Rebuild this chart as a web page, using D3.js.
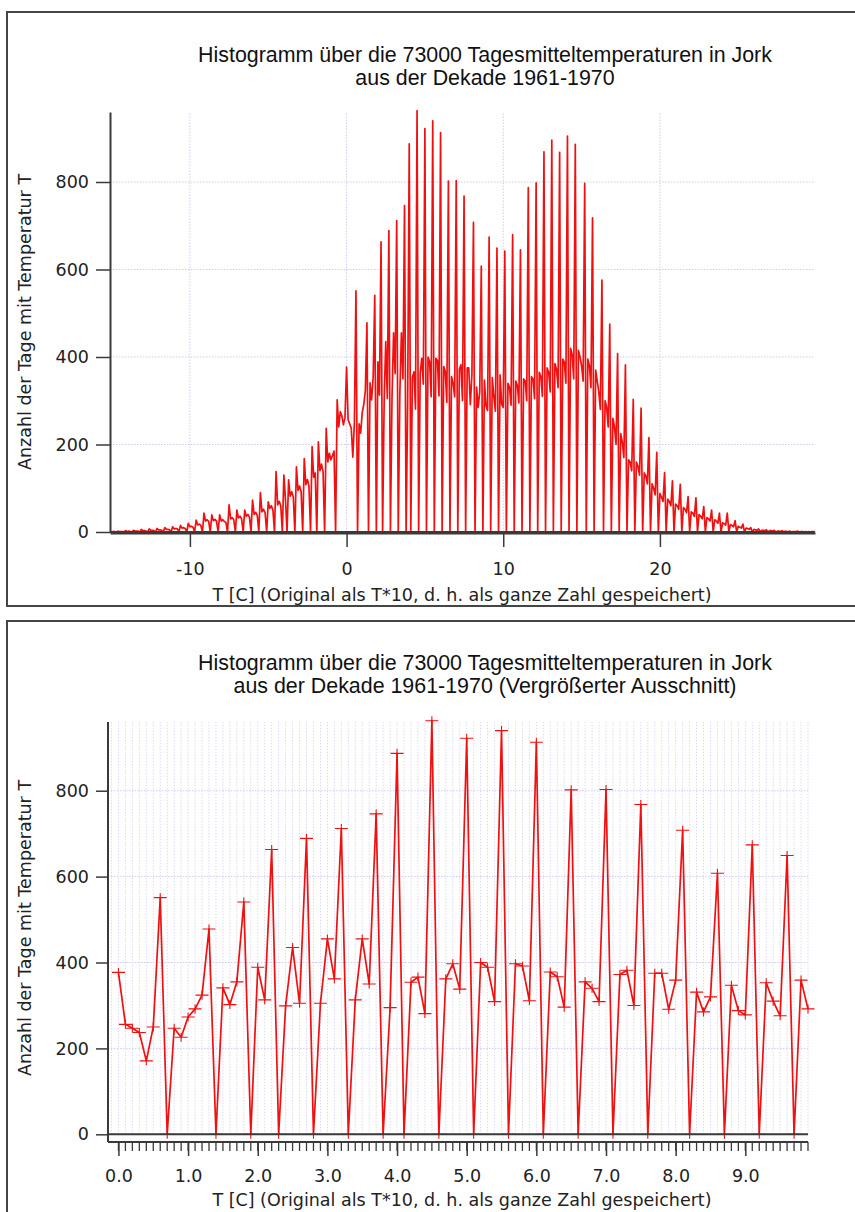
<!DOCTYPE html>
<html>
<head>
<meta charset="utf-8">
<script src="https://cdn.jsdelivr.net/npm/d3@7"></script>
<style>
  body { margin: 0; background: #fff; }
  svg { display: block; }
</style>
</head>
<body>
<div id="chart"></div>
<script>
// histogram of daily mean temperatures, bins of 0.1 degC, counts
const binStart = -15.0;
const binStep = 0.1;

// -15.0 .. -0.1
const countsNeg = [
  1, 1, 1, 0, 2, 1, 1, 1, 0, 3,
  1, 2, 1, 0, 4, 2, 2, 2, 0, 6,
  3, 3, 2, 0, 7, 4, 4, 3, 0, 8,
  5, 5, 4, 0, 10, 6, 6, 5, 0, 12,
  7, 8, 7, 0, 15, 9, 10, 8, 0, 20,
  12, 13, 11, 0, 27, 16, 18, 15, 0, 43,
  25, 28, 24, 0, 39, 26, 29, 25, 0, 39,
  25, 28, 24, 22, 0, 62, 30, 33, 28, 0,
  50, 32, 36, 30, 0, 50, 36, 40, 34, 0,
  73, 40, 45, 38, 0, 90, 46, 52, 44, 0,
  69, 54, 60, 50, 0, 138, 62, 70, 60, 0,
  130, 75, 0, 119, 82, 92, 80, 0, 149, 95,
  105, 92, 0, 168, 108, 120, 105, 0, 195, 125,
  135, 0, 206, 140, 155, 138, 0, 237, 160, 180,
  165, 175, 185, 0, 302, 240, 275, 265, 245, 262
];

// 0.0 .. 9.9 (also the enlarged section)
const counts0to10 = [
  377, 256, 247, 237, 171, 250, 551, 0, 247, 226,
  273, 292, 324, 478, 0, 341, 302, 355, 541, 0,
  389, 313, 663, 0, 299, 435, 305, 689, 0, 305,
  455, 362, 712, 0, 313, 455, 350, 746, 0, 295,
  887, 0, 354, 366, 281, 963, 0, 362, 397, 338,
  922, 0, 400, 389, 309, 940, 0, 397, 392, 311,
  913, 0, 378, 367, 296, 802, 0, 355, 340, 309,
  803, 0, 372, 382, 300, 768, 0, 375, 375, 291,
  359, 708, 0, 331, 285, 320, 608, 0, 347, 288,
  278, 674, 0, 353, 310, 276, 649, 0, 359, 292
];

// 10.0 .. 29.9
const counts10to30 = [
  285, 642, 0, 340, 330, 290, 680, 0, 345, 335,
  295, 645, 0, 350, 345, 300, 787, 0, 355, 350,
  305, 798, 0, 365, 355, 310, 869, 0, 375, 365,
  320, 896, 0, 385, 372, 330, 868, 0, 395, 388,
  340, 905, 0, 420, 405, 350, 886, 0, 415, 400,
  380, 345, 797, 0, 395, 380, 330, 718, 0, 370,
  345, 320, 280, 576, 0, 300, 285, 240, 475, 0,
  260, 240, 200, 408, 0, 225, 205, 170, 382, 0,
  165, 160, 140, 303, 0, 160, 150, 130, 283, 0,
  135, 128, 110, 216, 0, 110, 100, 85, 182, 0,
  88, 80, 70, 136, 0, 75, 70, 60, 117, 0,
  64, 60, 52, 109, 0, 56, 52, 44, 81, 0,
  46, 43, 36, 78, 0, 40, 36, 30, 58, 0,
  33, 30, 25, 50, 0, 28, 25, 20, 43, 0,
  21, 19, 16, 43, 0, 17, 15, 12, 26, 0,
  13, 11, 9, 18, 0, 9, 8, 6, 10, 0,
  6, 5, 4, 7, 0, 4, 4, 3, 5, 0,
  3, 3, 2, 4, 0, 2, 2, 1, 3, 0,
  2, 1, 1, 2, 0, 1, 1, 1, 2, 0,
  1, 1, 0, 1, 0, 1, 0, 1, 1, 0
];

const yTicks = [0, 200, 400, 600, 800];
const xTicksFull = [-10, 0, 10, 20];
const xTicksZoom = [0, 1, 2, 3, 4, 5, 6, 7, 8, 9];

const titleFull = ['Histogramm über die 73000 Tagesmitteltemperaturen in Jork', 'aus der Dekade 1961-1970'];
const titleZoom = ['Histogramm über die 73000 Tagesmitteltemperaturen in Jork', 'aus der Dekade 1961-1970 (Vergrößerter Ausschnitt)'];
const xTitle = 'T [C] (Original als T*10, d. h. als ganze Zahl gespeichert)';
const yTitle = 'Anzahl der Tage mit Temperatur T';

const red = '#f01010';
const gridColor = '#ccccf2';
const axisColor = '#3a3a3a';
const labelFont = '"DejaVu Sans", sans-serif';
const titleFont = '"Liberation Sans", Arial, sans-serif';

const allBins = countsNeg.concat(counts0to10, counts10to30)
  .map((n, i) => ({ t: +(binStart + i * binStep).toFixed(1), n }));
const zoomBins = counts0to10.map((n, i) => ({ t: +(i * binStep).toFixed(1), n }));

const svg = d3.select('#chart').append('svg')
  .attr('width', 855)
  .attr('height', 1212);

// frames
svg.append('rect')
  .attr('x', 7).attr('y', 12).attr('width', 870).attr('height', 594)
  .attr('fill', 'none').attr('stroke', '#454545').attr('stroke-width', 2);
svg.append('rect')
  .attr('x', 7).attr('y', 621).attr('width', 870).attr('height', 620)
  .attr('fill', 'none').attr('stroke', '#454545').attr('stroke-width', 2);

const drawTitle = (lines, y0) => {
  svg.append('g').selectAll('text')
    .data(lines)
    .enter().append('text')
    .attr('x', 485)
    .attr('y', (d, i) => y0 + i * 23)
    .style('font-family', titleFont)
    .style('font-size', '21.4px')
    .style('text-anchor', 'middle')
    .style('fill', '#111')
    .text(d => d);
};

const styleAxis = (g) => {
  g.selectAll('path.domain').attr('stroke', axisColor).attr('stroke-width', 2);
  g.selectAll('.tick line').attr('stroke', axisColor).attr('stroke-width', 1.5);
  g.selectAll('.tick text')
    .style('font-family', labelFont)
    .style('font-size', '17.5px')
    .style('fill', '#222');
};

// ---------- top panel: full range ----------
{
  const x = d3.scaleLinear([-15.1, 29.9], [110, 815]);
  const y = d3.scaleLinear([0, 960], [532, 112]);

  drawTitle(titleFull, 62);

  const grid = svg.append('g')
    .attr('stroke', gridColor).attr('stroke-width', 1).attr('stroke-dasharray', '1.5,1.5');
  grid.selectAll('.hg').data(yTicks.slice(1)).enter().append('line')
    .attr('x1', x.range()[0]).attr('x2', x.range()[1])
    .attr('y1', d => y(d)).attr('y2', d => y(d));
  grid.selectAll('.vg').data(xTicksFull).enter().append('line')
    .attr('x1', d => x(d)).attr('x2', d => x(d))
    .attr('y1', y(0)).attr('y2', y.range()[1]);

  const line = d3.line().x(d => x(d.t)).y(d => y(d.n));
  svg.append('path')
    .datum(allBins)
    .attr('d', line)
    .attr('fill', 'none')
    .attr('stroke', red)
    .attr('stroke-width', 1.7)
    .attr('stroke-linejoin', 'round');

  svg.append('line')
    .attr('x1', x.range()[0]).attr('x2', x.range()[1])
    .attr('y1', y(0)).attr('y2', y(0))
    .attr('stroke', axisColor).attr('stroke-width', 2);

  svg.append('g')
    .attr('transform', 'translate(110,0)')
    .call(d3.axisLeft(y).tickValues(yTicks).tickSize(14).tickSizeOuter(0).tickPadding(7))
    .call(styleAxis);

  svg.append('g')
    .attr('transform', 'translate(0,533)')
    .call(d3.axisBottom(x).tickValues(xTicksFull).tickFormat(d => String(d))
      .tickSize(14).tickSizeOuter(0).tickPadding(16))
    .call(styleAxis);

  svg.append('text')
    .attr('x', 462).attr('y', 601)
    .style('font-family', labelFont).style('font-size', '17.5px')
    .style('text-anchor', 'middle').style('fill', '#222')
    .text(xTitle);

  svg.append('text')
    .attr('transform', 'translate(31,322) rotate(-90)')
    .style('font-family', labelFont).style('font-size', '17.5px')
    .style('text-anchor', 'middle').style('fill', '#222')
    .text(yTitle);
}

// ---------- bottom panel: enlarged section 0.0 .. 9.9 ----------
{
  const x = d3.scaleLinear([-0.15, 9.9], [108, 808]);
  const y = d3.scaleLinear([0, 960], [1134.3, 722]);

  drawTitle(titleZoom, 670);

  const minorX = d3.range(-1, 100).map(i => i / 10);

  const grid = svg.append('g')
    .attr('stroke', '#d8d8f6').attr('stroke-width', 1).attr('stroke-dasharray', '1.5,1.5');
  grid.selectAll('.vg').data(minorX).enter().append('line')
    .attr('x1', d => x(d)).attr('x2', d => x(d))
    .attr('y1', y(0)).attr('y2', y.range()[1]);
  grid.selectAll('.hg').data(yTicks.slice(1)).enter().append('line')
    .attr('x1', x.range()[0]).attr('x2', x.range()[1])
    .attr('y1', d => y(d)).attr('y2', d => y(d))
    .attr('stroke', gridColor);

  const line = d3.line().x(d => x(d.t)).y(d => y(d.n));
  svg.append('path')
    .datum(zoomBins)
    .attr('d', line)
    .attr('fill', 'none')
    .attr('stroke', red)
    .attr('stroke-width', 1.7)
    .attr('stroke-linejoin', 'round');

  svg.append('g').selectAll('path')
    .data(zoomBins)
    .enter().append('path')
    .attr('transform', d => `translate(${x(d.t)},${y(d.n)})`)
    .attr('d', 'M-6.5,0H6.5M0,-4.5V4.5')
    .attr('fill', 'none')
    .attr('stroke', red)
    .attr('stroke-width', 1.1);

  svg.append('line')
    .attr('x1', x.range()[0]).attr('x2', x.range()[1])
    .attr('y1', y(0)).attr('y2', y(0))
    .attr('stroke', axisColor).attr('stroke-width', 2);

  svg.append('g')
    .attr('transform', 'translate(108,0)')
    .call(d3.axisLeft(y).tickValues(yTicks).tickSize(12).tickSizeOuter(0).tickPadding(7))
    .call(styleAxis)
    .call(g => g.select('path.domain').attr('d', `M0,${y.range()[1]}V1142`));

  // minor ticks every 0.1, major ticks with labels on integers
  const xAxisG = svg.append('g').attr('transform', 'translate(0,1142)');
  xAxisG.append('line')
    .attr('x1', x.range()[0]).attr('x2', x.range()[1])
    .attr('stroke', axisColor).attr('stroke-width', 2);
  xAxisG.selectAll('.minor').data(d3.range(0, 100).map(i => i / 10)).enter().append('line')
    .attr('x1', d => x(d)).attr('x2', d => x(d))
    .attr('y1', 0).attr('y2', 9)
    .attr('stroke', axisColor).attr('stroke-width', 1.3);
  xAxisG.append('g')
    .call(d3.axisBottom(x).tickValues(xTicksZoom).tickFormat(d3.format('.1f'))
      .tickSize(14).tickSizeOuter(0).tickPadding(14))
    .call(styleAxis)
    .call(g => g.select('path.domain').remove());

  svg.append('text')
    .attr('x', 462).attr('y', 1206)
    .style('font-family', labelFont).style('font-size', '17.5px')
    .style('text-anchor', 'middle').style('fill', '#222')
    .text(xTitle);

  svg.append('text')
    .attr('transform', 'translate(31,928) rotate(-90)')
    .style('font-family', labelFont).style('font-size', '17.5px')
    .style('text-anchor', 'middle').style('fill', '#222')
    .text(yTitle);
}
</script>
</body>
</html>
